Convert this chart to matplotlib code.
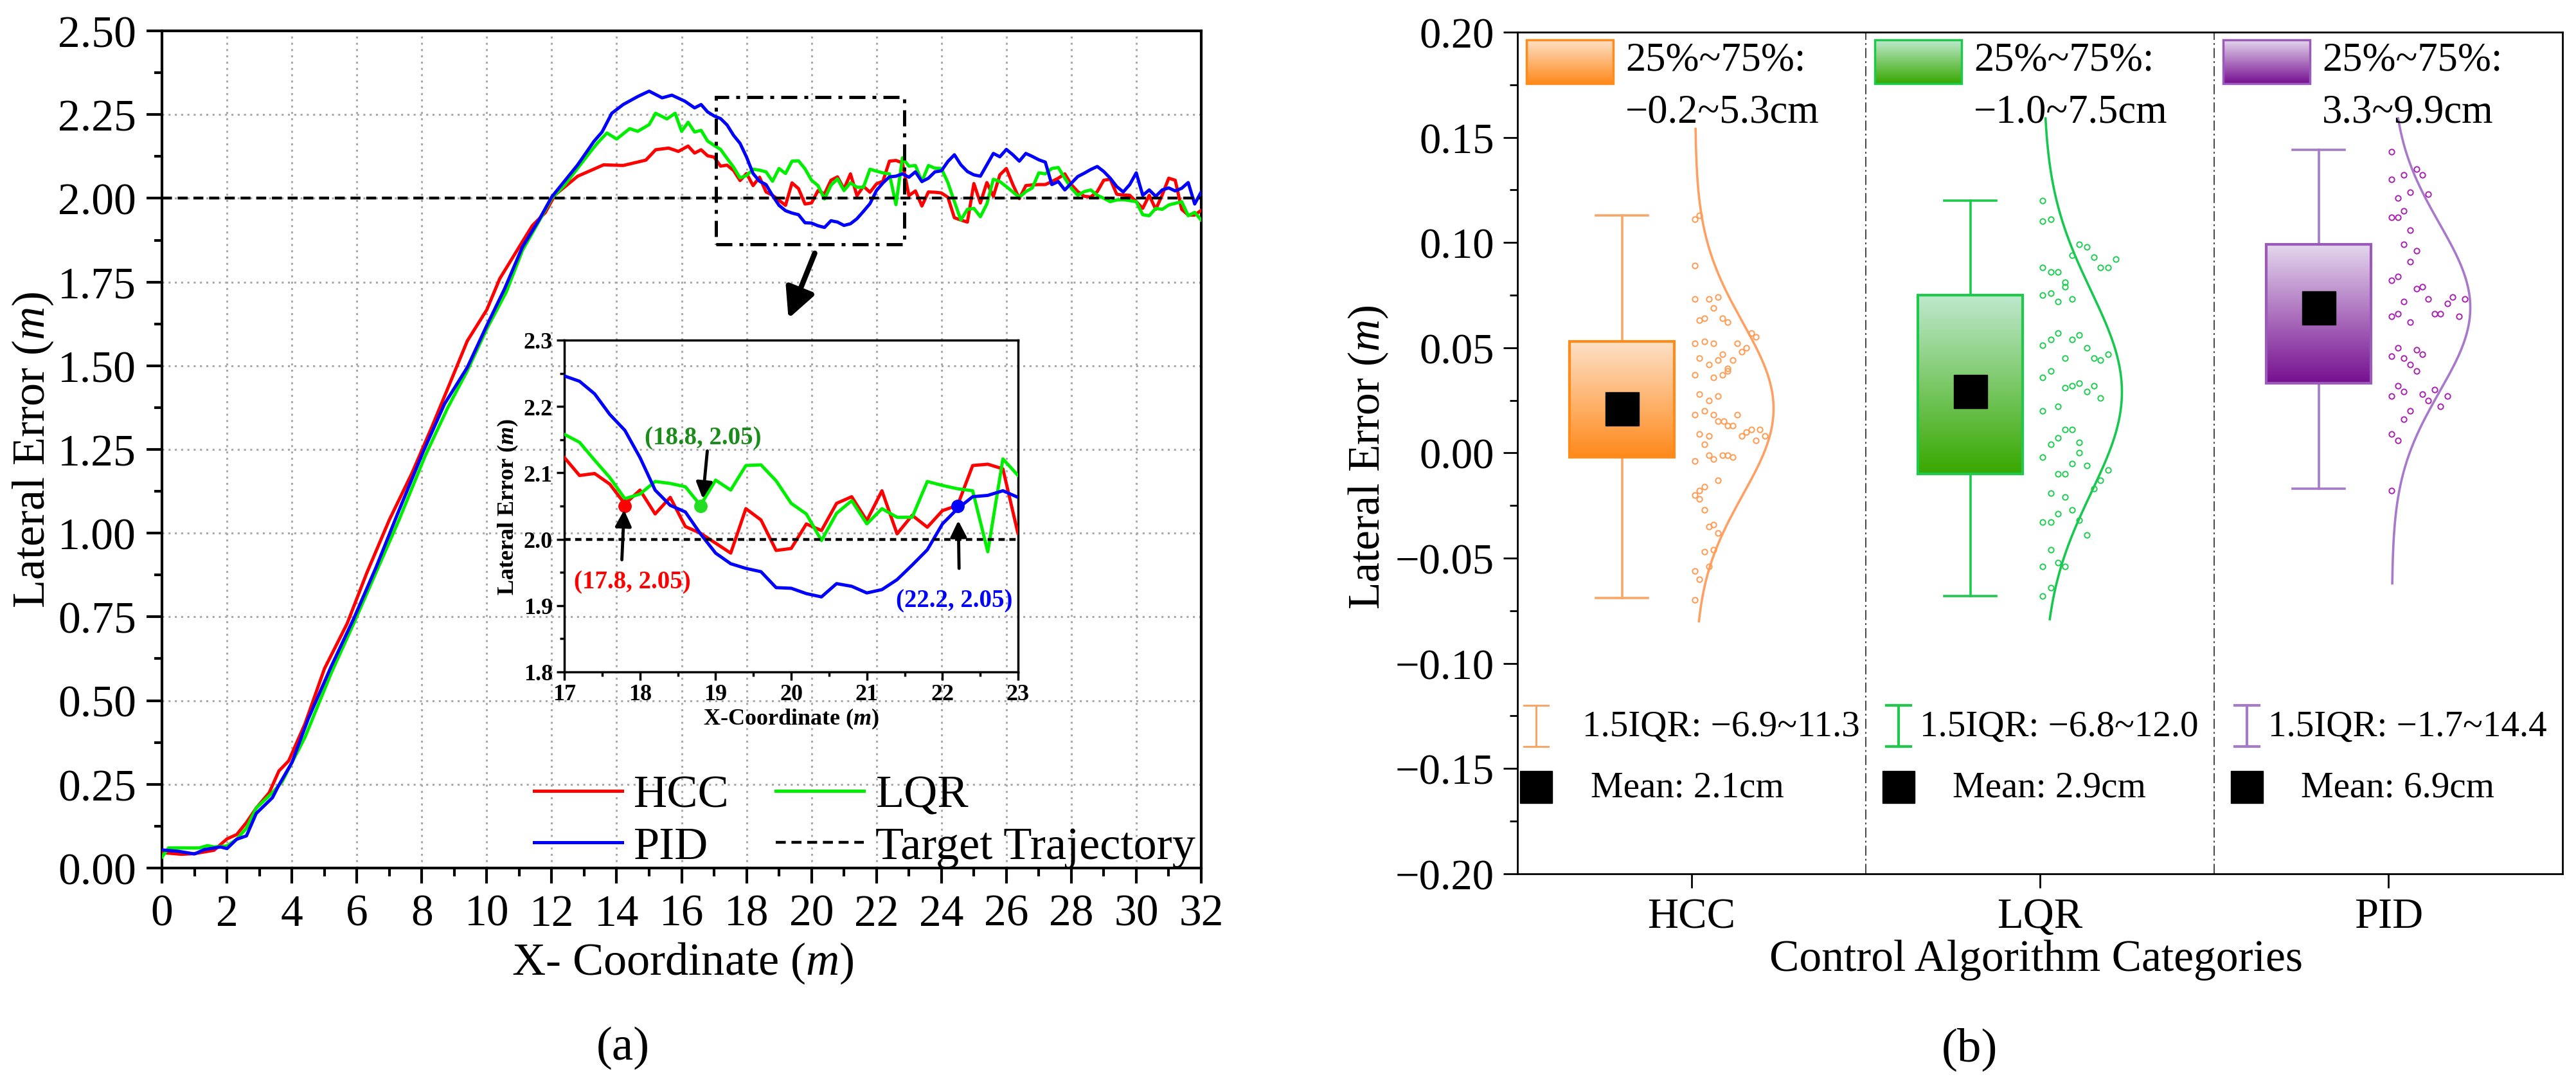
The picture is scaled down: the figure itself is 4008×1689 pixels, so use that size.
import numpy as np
import matplotlib
matplotlib.use('Agg')
import matplotlib.pyplot as plt
from matplotlib.ticker import MultipleLocator, FormatStrFormatter, FuncFormatter
from matplotlib.colors import to_rgb
from matplotlib.patches import Rectangle

plt.rcParams['font.family'] = ['Liberation Serif', 'DejaVu Serif']
plt.rcParams['mathtext.fontset'] = 'custom'
plt.rcParams['mathtext.rm'] = 'Liberation Serif'
plt.rcParams['mathtext.it'] = 'Liberation Serif:italic'
plt.rcParams['mathtext.bf'] = 'Liberation Serif:bold'
plt.rcParams['mathtext.bfit'] = 'Liberation Serif:italic:bold'

# ---------------- panel (a) data ----------------
# sparse part (0 .. 16.8)
hcc_x0 = [0, 0.6, 1.0, 1.6, 2.0, 2.3, 2.6, 2.9, 3.3, 3.6, 3.9, 4.4, 5.0, 5.7, 6.3, 7.0, 7.7, 8.3,
          8.9, 9.4, 10.0, 10.4, 11.0, 11.4, 11.8, 12.1, 12.8, 13.6, 14.2, 14.9, 15.2, 15.6, 15.9,
          16.2, 16.4, 16.6, 16.8]
hcc_y0 = [0.046, 0.041, 0.043, 0.053, 0.087, 0.100, 0.136, 0.179, 0.225, 0.290, 0.320, 0.430,
          0.595, 0.730, 0.880, 1.040, 1.180, 1.315, 1.456, 1.574, 1.667, 1.760, 1.855, 1.918,
          1.957, 2.010, 2.066, 2.100, 2.098, 2.114, 2.145, 2.150, 2.140, 2.156, 2.135, 2.145, 2.127]
lqr_x0 = [0, 0.2, 0.75, 1.15, 1.4, 1.6, 2.0, 2.3, 2.6, 2.9, 3.4, 3.7, 4.0, 4.4, 5.2, 5.9, 6.6,
          7.3, 8.1, 8.8, 9.4, 10.0, 10.6, 11.1, 11.6, 12.0, 12.4, 12.8, 13.2, 13.4, 13.7, 14.0,
          14.4, 14.65, 15.0, 15.2, 15.55, 15.8, 16.0, 16.2, 16.4, 16.6, 16.8]
lqr_y0 = [0.033, 0.060, 0.060, 0.060, 0.067, 0.063, 0.066, 0.086, 0.119, 0.179, 0.225, 0.258,
          0.315, 0.390, 0.580, 0.730, 0.885, 1.040, 1.230, 1.375, 1.485, 1.610, 1.720, 1.845,
          1.930, 2.000, 2.040, 2.090, 2.140, 2.164, 2.195, 2.177, 2.208, 2.200, 2.220, 2.254,
          2.237, 2.254, 2.200, 2.227, 2.198, 2.203, 2.171]
pid_x0 = [0, 0.5, 1.0, 1.3, 1.8, 2.0, 2.3, 2.6, 2.9, 3.4, 3.6, 4.0, 4.5, 5.2, 5.9, 6.6, 7.25,
          8.05, 8.7, 9.4, 10.0, 10.55, 11.1, 11.6, 12.0, 12.8, 13.3, 13.55, 13.85, 14.2, 14.65,
          15.0, 15.4, 15.7, 16.1, 16.4, 16.6, 16.8]
pid_y0 = [0.054, 0.050, 0.042, 0.055, 0.063, 0.058, 0.086, 0.096, 0.163, 0.210, 0.248, 0.315,
          0.445, 0.600, 0.744, 0.900, 1.057, 1.245, 1.386, 1.495, 1.620, 1.730, 1.855, 1.934,
          2.004, 2.100, 2.170, 2.198, 2.254, 2.280, 2.304, 2.320, 2.300, 2.308, 2.290, 2.270,
          2.280, 2.258]

# dense part, 17.0 .. 32.0 every 0.2 m (17-23 read from the zoom window)
x_dense = np.round(np.arange(17.0, 32.01, 0.2), 1)
hcc_y1 = [2.123, 2.096, 2.099, 2.083, 2.053, 2.074, 2.038, 2.063, 2.019, 2.009, 1.994, 1.979,
          2.046, 2.029, 1.983, 1.986, 2.023, 2.013, 2.054, 2.064, 2.028, 2.073, 2.008, 2.036,
          2.018, 2.043, 2.051, 2.111, 2.113, 2.106, 2.008,
          2.022, 1.977, 2.019, 2.018, 2.016, 2.003, 1.942, 1.935, 1.929, 2.044, 1.986, 2.047,
          2.006, 2.070, 2.089, 2.041, 1.999, 2.038, 2.040, 2.041, 2.041, 2.050, 2.060, 2.073,
          2.041, 2.020, 2.006, 2.004, 2.020, 2.054, 2.057, 2.012, 2.010, 2.009, 1.990, 1.970,
          2.009, 1.967, 2.010, 2.060, 2.054, 1.967, 1.950, 1.950, 1.964]
lqr_y1 = [2.158, 2.146, 2.119, 2.093, 2.061, 2.068, 2.087, 2.084, 2.079, 2.051, 2.089, 2.074,
          2.111, 2.112, 2.088, 2.054, 2.038, 1.998, 2.039, 2.058, 2.023, 2.046, 2.033, 2.033,
          2.087, 2.081, 2.076, 2.073, 1.981, 2.121, 2.096,
          2.098, 2.050, 2.098, 2.090, 2.089, 2.047, 1.990, 1.935, 1.967, 1.970, 1.945, 1.983,
          2.057, 2.050, 2.035, 2.019, 2.003, 2.020, 2.031, 2.076, 2.073, 2.089, 2.092, 2.060,
          2.030, 2.009, 2.020, 2.025, 2.009, 2.000, 1.990, 1.995, 1.996, 1.993, 1.990, 1.951,
          1.948, 1.970, 1.967, 1.980, 1.985, 1.990, 1.948, 1.958, 1.935]
pid_y1 = [2.246, 2.238, 2.219, 2.188, 2.164, 2.123, 2.074, 2.051, 2.041, 2.008, 1.979, 1.963,
          1.956, 1.951, 1.927, 1.926, 1.918, 1.913, 1.933, 1.929, 1.919, 1.924, 1.939, 1.961,
          1.984, 2.023, 2.046, 2.064, 2.066, 2.073, 2.063,
          2.079, 2.050, 2.060, 2.079, 2.082, 2.110, 2.130, 2.100, 2.080, 2.070, 2.066, 2.100,
          2.134, 2.124, 2.146, 2.130, 2.111, 2.134, 2.125, 2.115, 2.108, 2.041, 2.050, 2.025,
          2.045, 2.065, 2.075, 2.086, 2.095, 2.080, 2.060, 2.035, 2.019, 2.041, 2.076, 2.009,
          2.025, 2.006, 2.025, 2.031, 2.022, 2.030, 2.047, 1.983, 2.019]

target_y = 2.0
marked_pts = [(17.8, 2.05), (18.8, 2.05), (22.2, 2.05)]

hcc_x = np.concatenate([hcc_x0, x_dense]); hcc_y = np.concatenate([hcc_y0, hcc_y1])
lqr_x = np.concatenate([lqr_x0, x_dense]); lqr_y = np.concatenate([lqr_y0, lqr_y1])
pid_x = np.concatenate([pid_x0, x_dense]); pid_y = np.concatenate([pid_y0, pid_y1])

# ---------------- panel (b) data ----------------
cats = ['HCC', 'LQR', 'PID']
q1 = [-0.002, -0.010, 0.033]
q3 = [0.053, 0.075, 0.099]
wlo = [-0.069, -0.068, -0.017]
whi = [0.113, 0.120, 0.144]
means = [0.021, 0.029, 0.069]
sds = [0.041, 0.048, 0.040]
curve_lo = [-0.080, -0.079, -0.062]
curve_hi = [0.154, 0.159, 0.159]
iqr_txt = ['\u22120.2~5.3cm', '\u22121.0~7.5cm', '3.3~9.9cm']
whisk_txt = ['1.5IQR: \u22126.9~11.3', '1.5IQR: \u22126.8~12.0', '1.5IQR: \u22121.7~14.4']
mean_txt = ['Mean: 2.1cm', 'Mean: 2.9cm', 'Mean: 6.9cm']

hcc_pts = [(0.009, 0.111), (0.021, 0.113), (0.009, 0.089), (0.009, 0.073), (0.049, 0.073),
           (0.076, 0.074), (0.063, 0.069), (0.021, 0.063), (0.036, 0.064), (0.089, 0.064),
           (0.104, 0.062), (0.172, 0.057), (0.184, 0.055), (0.009, 0.052), (0.036, 0.053),
           (0.063, 0.052), (0.131, 0.052), (0.144, 0.048), (0.157, 0.050), (0.021, 0.045),
           (0.089, 0.047), (0.049, 0.042), (0.076, 0.044), (0.118, 0.044), (0.104, 0.040),
           (0.104, 0.039), (0.009, 0.037), (0.063, 0.036), (0.089, 0.037), (0.021, 0.028),
           (0.050, 0.025), (0.076, 0.027), (0.036, 0.020), (0.009, 0.018), (0.063, 0.018),
           (0.131, 0.018), (0.076, 0.015), (0.092, 0.015), (0.104, 0.013), (0.118, 0.013),
           (0.021, 0.009), (0.050, 0.008), (0.036, 0.004), (0.144, 0.008), (0.157, 0.010),
           (0.172, 0.011), (0.196, 0.011), (0.184, 0.006), (0.210, 0.008), (0.009, -0.004),
           (0.049, -0.001), (0.063, -0.003), (0.089, -0.001), (0.104, -0.001), (0.118, -0.002),
           (0.076, -0.013), (0.009, -0.020), (0.021, -0.018), (0.036, -0.016), (0.021, -0.022),
           (0.036, -0.027), (0.049, -0.035), (0.063, -0.034), (0.076, -0.038), (0.036, -0.047),
           (0.063, -0.046), (0.049, -0.054), (0.009, -0.056), (0.021, -0.060), (0.009, -0.070)]
lqr_pts = [(0.008, 0.120), (0.008, 0.110), (0.031, 0.111), (0.092, 0.094), (0.112, 0.099),
           (0.134, 0.098), (0.154, 0.093), (0.217, 0.092), (0.174, 0.088), (0.196, 0.088),
           (0.008, 0.088), (0.031, 0.086), (0.051, 0.086), (0.071, 0.081), (0.071, 0.079),
           (0.008, 0.075), (0.031, 0.076), (0.051, 0.072), (0.092, 0.073), (0.008, 0.051),
           (0.031, 0.054), (0.051, 0.057), (0.092, 0.054), (0.112, 0.056), (0.134, 0.050),
           (0.071, 0.045), (0.154, 0.045), (0.174, 0.044), (0.196, 0.047), (0.008, 0.036),
           (0.031, 0.039), (0.071, 0.031), (0.092, 0.032), (0.112, 0.033), (0.134, 0.029),
           (0.154, 0.032), (0.174, 0.026), (0.008, 0.020), (0.051, 0.022), (0.071, 0.011),
           (0.092, 0.011), (0.031, 0.004), (0.051, 0.007), (0.112, 0.005), (0.008, -0.002),
           (0.112, 0.000), (0.092, -0.005), (0.134, -0.006), (0.196, -0.008), (0.051, -0.010),
           (0.071, -0.010), (0.174, -0.013), (0.154, -0.017), (0.031, -0.019), (0.071, -0.021),
           (0.051, -0.029), (0.092, -0.027), (0.008, -0.033), (0.031, -0.033), (0.112, -0.032),
           (0.134, -0.039), (0.031, -0.046), (0.051, -0.052), (0.071, -0.054), (0.008, -0.054),
           (0.031, -0.064), (0.008, -0.068)]
pid_pts = [(0.009, 0.143), (0.009, 0.130), (0.044, 0.132), (0.080, 0.135), (0.098, 0.132),
           (0.027, 0.121), (0.062, 0.124), (0.115, 0.123), (0.009, 0.112), (0.027, 0.112),
           (0.044, 0.115), (0.062, 0.106), (0.044, 0.099), (0.080, 0.096), (0.062, 0.091),
           (0.009, 0.082), (0.027, 0.084), (0.080, 0.078), (0.098, 0.079), (0.044, 0.072),
           (0.115, 0.073), (0.169, 0.071), (0.185, 0.074), (0.220, 0.073), (0.009, 0.065),
           (0.027, 0.066), (0.062, 0.062), (0.132, 0.066), (0.149, 0.066), (0.203, 0.065),
           (0.027, 0.050), (0.009, 0.046), (0.080, 0.049), (0.098, 0.047), (0.044, 0.045),
           (0.062, 0.042), (0.080, 0.039), (0.027, 0.032), (0.009, 0.027), (0.044, 0.029),
           (0.098, 0.028), (0.115, 0.025), (0.132, 0.030), (0.169, 0.027), (0.149, 0.022),
           (0.062, 0.020), (0.044, 0.016), (0.009, 0.009), (0.027, 0.006), (0.009, -0.018)]
all_pts = [hcc_pts, lqr_pts, pid_pts]

grad_top = ['#fde0c6', '#bfe9cf', '#e4d6ee']
grad_bot = ['#ff8a1c', '#38a800', '#761090']
edge_col = ['#ff8c1a', '#1ec94c', '#9a5ab8']
whisk_col = ['#f7a868', '#1ec94c', '#a57ac6']
pt_col = ['#ff9a50', '#1ecc52', '#a820b0']
curve_col = ['#ffa062', '#16c84e', '#a878cc']

line_red, line_green, line_blue = '#ff0000', '#00ee00', '#0000ff'

uminus = FuncFormatter(lambda v, p: f'{v:.2f}'.replace('-', '\u2212'))


def gradient(ax, x0, x1, y0, y1, top, bot, z=2):
    t = np.linspace(0, 1, 128)[:, None]
    c = (1 - t) * np.array(to_rgb(bot)) + t * np.array(to_rgb(top))
    ax.imshow(c.reshape(128, 1, 3), extent=[x0, x1, y0, y1], origin='lower',
              aspect='auto', interpolation='bilinear', zorder=z)


fig = plt.figure(figsize=(40.08, 16.90), dpi=100)

# ================= (a) =================
ax = fig.add_axes([0.0629, 0.2006, 0.4034, 0.7704])
ax.grid(True, which='major', color='#a8a8a8', ls=(0, (1, 2.2)), lw=2.2, zorder=0)
h1, = ax.plot(hcc_x, hcc_y, color=line_red, lw=3.6, zorder=3, label='HCC')
h2, = ax.plot(lqr_x, lqr_y, color=line_green, lw=3.6, zorder=3, label='LQR')
h3, = ax.plot(pid_x, pid_y, color=line_blue, lw=3.6, zorder=4, label='PID')
h4 = ax.axhline(target_y, color='k', lw=3.2, ls=(0, (3.5, 2)), zorder=5, label='Target Trajectory')
ax.add_patch(Rectangle((17.05, 1.862), 5.8, 0.441, fill=False, ec='k', lw=3.6,
                       ls=(0, (5, 2.2, 1.2, 2.2)), zorder=6))
ax.annotate('', xy=(19.29, 1.641), xytext=(20.1, 1.836),
            arrowprops=dict(arrowstyle='-|>', lw=6, color='k', mutation_scale=70,
                            shrinkA=0, shrinkB=0), zorder=6)
ax.set_xlim(0, 32)
ax.set_ylim(0, 2.5)
ax.xaxis.set_major_locator(MultipleLocator(2))
ax.xaxis.set_minor_locator(MultipleLocator(1))
ax.yaxis.set_major_locator(MultipleLocator(0.25))
ax.yaxis.set_minor_locator(MultipleLocator(0.125))
ax.yaxis.set_major_formatter(FormatStrFormatter('%.2f'))
ax.tick_params(which='major', direction='out', length=17, width=3, labelsize=50, pad=12)
ax.tick_params(which='minor', direction='out', length=9, width=3)
for s in ax.spines.values():
    s.set_linewidth(3)
ax.legend(handles=[h1, h3, h2, h4], ncol=2, frameon=False, fontsize=52, loc='lower left',
          bbox_to_anchor=(0.358, 0.0), handlelength=1.9, handletextpad=0.25,
          columnspacing=1.0, labelspacing=0.2, borderaxespad=0, borderpad=0)

# inset
axi = fig.add_axes([0.2191, 0.3811, 0.1761, 0.3053])
axi.patch.set_alpha(0)
axi.plot(x_dense, hcc_y1, color=line_red, lw=3.6, zorder=3)
axi.plot(x_dense, lqr_y1, color=line_green, lw=3.6, zorder=3)
axi.plot(x_dense, pid_y1, color=line_blue, lw=3.6, zorder=4)
axi.axhline(target_y, color='k', lw=3.2, ls=(0, (2.2, 1.6)), zorder=5)
axi.set_xlim(17, 23)
axi.set_ylim(1.8, 2.3)
axi.xaxis.set_major_locator(MultipleLocator(1))
axi.xaxis.set_minor_locator(MultipleLocator(0.5))
axi.yaxis.set_major_locator(MultipleLocator(0.1))
axi.yaxis.set_minor_locator(MultipleLocator(0.05))
axi.yaxis.set_major_formatter(FormatStrFormatter('%.1f'))
axi.tick_params(which='major', direction='out', length=9, width=2.5, labelsize=26, pad=4)
axi.tick_params(which='minor', direction='out', length=5, width=2.5)
for lab in axi.get_xticklabels() + axi.get_yticklabels():
    lab.set_fontweight('bold')
for s in axi.spines.values():
    s.set_linewidth(2.5)
axi.set_xlabel(r'X-Coordinate ($\mathbfit{m}$)', fontsize=26, fontweight='bold', labelpad=2)
axi.set_ylabel(r'Lateral Error ($\mathbfit{m}$)', fontsize=26, fontweight='bold', labelpad=4)

mk_cols = [line_red, '#22dd22', line_blue]
txt_cols = ['#ff0000', '#1a8c1a', '#0000ff']
txt_pos = [(17.9, 1.936), (18.83, 2.153), (22.16, 1.908)]
arrow_tail = [(17.76, 1.969), (18.89, 2.133), (22.22, 1.956)]
arrow_tip = [(17.79, 2.044), (18.83, 2.061), (22.21, 2.028)]
for (px, py), mc, tc, tp, ta, th in zip(marked_pts, mk_cols, txt_cols, txt_pos, arrow_tail, arrow_tip):
    axi.plot(px, py, 'o', color=mc, ms=14, zorder=7)
    axi.annotate('', xy=th, xytext=ta,
                 arrowprops=dict(arrowstyle='-|>', lw=3.5, color='k', mutation_scale=38,
                                 shrinkA=0, shrinkB=0), zorder=8)
    axi.text(tp[0], tp[1], f'({px}, {py:.2f})', color=tc, fontsize=28, fontweight='bold',
             ha='center', va='center', zorder=8)

fig.text(0.0128, 0.586, r'Lateral Error ($m$)', rotation=90, ha='center', va='center', fontsize=52)
fig.text(0.2650, 0.1136, r'X- Coordinate ($m$)', ha='center', va='center', fontsize=52)
fig.text(0.2418, 0.0355, '(a)', ha='center', va='center', fontsize=54)

# ================= (b) =================
bx = fig.add_axes([0.5891, 0.1953, 0.4057, 0.7746])
for i in range(3):
    xc = i - 0.2
    gradient(bx, xc - 0.15, xc + 0.15, q1[i], q3[i], grad_top[i], grad_bot[i])
    bx.add_patch(Rectangle((xc - 0.15, q1[i]), 0.3, q3[i] - q1[i], fill=False,
                           ec=edge_col[i], lw=3, zorder=3))
    bx.plot([xc, xc], [wlo[i], q1[i]], color=whisk_col[i], lw=2.6, zorder=2)
    bx.plot([xc, xc], [q3[i], whi[i]], color=whisk_col[i], lw=2.6, zorder=2)
    for w in (wlo[i], whi[i]):
        bx.plot([xc - 0.075, xc + 0.075], [w, w], color=whisk_col[i], lw=2.6, zorder=2)
    bx.plot(xc, means[i], 's', color='k', ms=38, zorder=4)
    # normal curve of the data
    yy = np.linspace(curve_lo[i], curve_hi[i], 300)
    xx = i + 0.01 + 0.225 * np.exp(-0.5 * ((yy - means[i]) / sds[i]) ** 2)
    bx.plot(xx, yy, color=curve_col[i], lw=2.6, zorder=3)
    px = [i + p[0] for p in all_pts[i]]
    py = [p[1] for p in all_pts[i]]
    bx.plot(px, py, 'o', mfc='none', mec=pt_col[i], ms=6, mew=1.4, zorder=4)

    # key inside the panel
    gradient(bx, i - 0.474, i - 0.225, 0.1756, 0.1963, grad_top[i], grad_bot[i])
    bx.add_patch(Rectangle((i - 0.474, 0.1756), 0.249, 0.0207, fill=False,
                           ec=edge_col[i], lw=2.5, zorder=3))
    bx.text(i - 0.19, 0.1866, '25%~75%:', fontsize=45, ha='left', va='center')
    bx.text(i - 0.19, 0.162, iqr_txt[i], fontsize=45, ha='left', va='center')
    kx = i - 0.446 + (0.04 if i > 0 else 0.0)
    bx.plot([kx, kx], [-0.1396, -0.120], color=whisk_col[i], lw=3 if i else 2.2)
    for w in (-0.1396, -0.120):
        bx.plot([kx - 0.035, kx + 0.035], [w, w], color=whisk_col[i], lw=3 if i else 2.2)
    bx.text(kx + 0.06 if i else i - 0.314, -0.130, whisk_txt[i], fontsize=41, ha='left', va='center')
    bx.plot(kx, -0.1588, 's', color='k', ms=36)
    bx.text(kx + 0.155 if i else i - 0.29, -0.1588, mean_txt[i], fontsize=41, ha='left', va='center')

for xs in (0.5, 1.5):
    bx.axvline(xs, color='#444444', lw=1.4, ls=(0, (8, 2.5, 1.5, 2.5)), zorder=1)

bx.set_xlim(-0.5, 2.5)
bx.set_ylim(-0.2, 0.2)
bx.set_xticks([0, 1, 2])
bx.set_xticklabels(cats)
bx.yaxis.set_major_locator(MultipleLocator(0.05))
bx.yaxis.set_minor_locator(MultipleLocator(0.025))
bx.yaxis.set_major_formatter(uminus)
bx.tick_params(which='major', direction='out', length=16, width=2, labelsize=48, pad=10)
bx.tick_params(which='minor', direction='out', length=9, width=2)
bx.tick_params(axis='x', which='minor', bottom=False)
for s in bx.spines.values():
    s.set_linewidth(2)

fig.text(0.5312, 0.579, r'Lateral Error ($m$)', rotation=90, ha='center', va='center', fontsize=50)
fig.text(0.7904, 0.1166, 'Control Algorithm Categories', ha='center', va='center', fontsize=50)
fig.text(0.7647, 0.034, '(b)', ha='center', va='center', fontsize=54)

fig.savefig('out.png', dpi=100)
